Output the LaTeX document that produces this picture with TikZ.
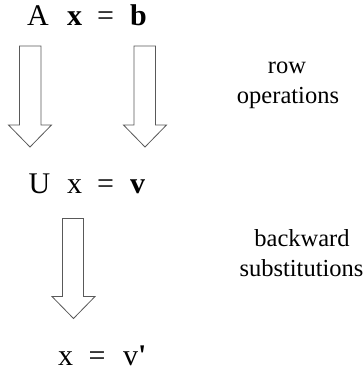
\documentclass[tikz,border=0pt]{standalone}
\usepackage{fontspec}
\setmainfont{Liberation Serif}
\begin{document}
\begin{tikzpicture}[x=1pt,y=-1pt,
  eq/.style={inner sep=0pt,anchor=base west,font=\fontsize{30}{36}\selectfont},
  lbl/.style={inner sep=0pt,anchor=base,font=\fontsize{24.5}{30}\selectfont},
  blockarrow/.style={draw=black!65,line width=0.8pt,line join=miter,fill=white}]
\useasboundingbox (0,0) rectangle (364,370);
% equations
\node[eq] (A)  at (27,25) {A};
\node[eq] (x1) at (67,25) {\textbf{x}};
\node[eq] (e1) at (97,25) {=};
\node[eq] (b)  at (130,25) {\textbf{b}};
\node[eq] (U)  at (28.5,193) {U};
\node[eq] (x2) at (67,193) {x};
\node[eq] (e2) at (97,193) {=};
\node[eq] (v)  at (130,193) {\textbf{v}};
\node[eq] (x3) at (58,365) {x};
\node[eq] (e3) at (88.5,365) {=};
\node[eq] (v3) at (123,365) {v\textbf{\textquotesingle}};
% labels
\node[lbl] (r1) at (287,73) {row};
\node[lbl] (r2) at (288,103) {operations};
\node[lbl] (s1) at (302,246.5) {backward};
\node[lbl] (s2) at (301.5,276.5) {substitutions};
% block arrows
\draw[blockarrow] (19.5,46) -- (41,46) -- (41,125) -- (51.5,125) -- (30,147) -- (8.5,125) -- (19.5,125) -- cycle;
\draw[blockarrow] (134,46) -- (155.5,46) -- (155.5,125) -- (166.5,125) -- (145,147) -- (123.5,125) -- (134,125) -- cycle;
\draw[blockarrow] (62.5,218.5) -- (83.5,218.5) -- (83.5,296.5) -- (95,296.5) -- (73.5,318.5) -- (52,296.5) -- (62.5,296.5) -- cycle;
\end{tikzpicture}
\end{document}
